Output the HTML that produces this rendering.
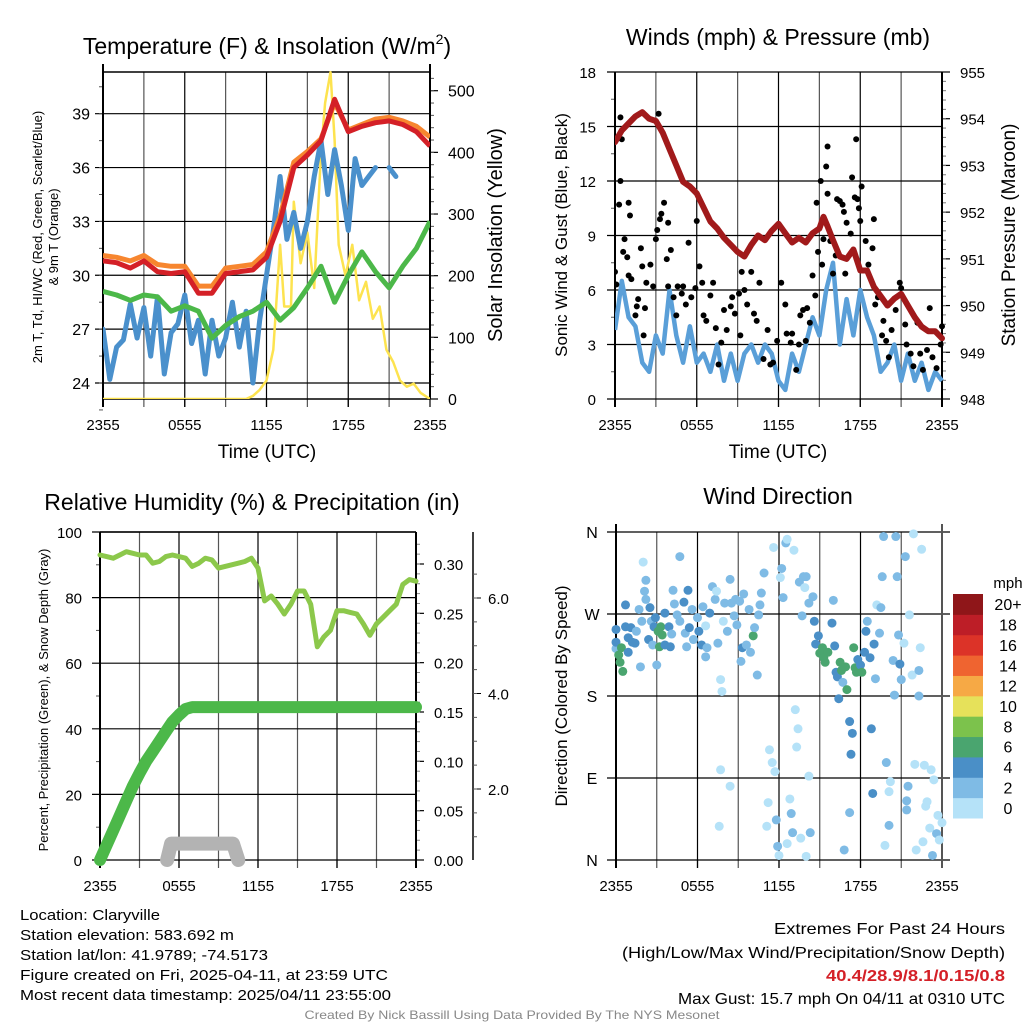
<!DOCTYPE html>
<html><head><meta charset="utf-8"><style>
html,body{margin:0;padding:0;background:#fff;}
svg{display:block;font-family:"Liberation Sans",Arial,sans-serif;}
</style></head><body>
<svg id="chart" width="1024" height="1024" viewBox="0 0 1024 1024" xmlns="http://www.w3.org/2000/svg"></svg>
<script>
// ===== Panel 1 data: temperature & insolation =====
const tempHours = [0,1,2,3,4,5,6,7,8,9,10,11,12,13,14,15,16,17,18,19,20,21,22,23,24];
const temp2m = [30.8,30.7,30.4,30.8,30.2,30.1,30.2,29.0,29.0,30.1,30.2,30.3,31.0,33.0,36.0,36.7,37.5,39.8,38.0,38.3,38.5,38.6,38.4,38.0,37.2];
const temp9m = [31.1,31.0,30.8,31.1,30.6,30.5,30.5,29.4,29.4,30.4,30.5,30.6,31.3,33.3,36.3,36.9,37.6,39.6,38.1,38.4,38.7,38.8,38.6,38.3,37.7];
const dewpoint = [29.1,28.9,28.6,28.9,28.8,28.0,28.3,28.0,26.5,27.2,27.7,28.0,28.5,27.5,28.2,29.3,30.5,28.5,30.0,31.3,30.2,29.3,30.5,31.5,33.0];
const halfHours = [0,0.5,1,1.5,2,2.5,3,3.5,4,4.5,5,5.5,6,6.5,7,7.5,8,8.5,9,9.5,10,10.5,11,11.5,12,12.5,13,13.5,14,14.5,15,15.5,16,16.5,17,17.5,18,18.5,19,19.5,20,20.5,21,21.5,22,22.5,23,23.5,24];
const windChill = [27.0,24.2,26.0,26.4,28.4,26.5,28.2,25.5,28.8,24.5,26.8,27.3,28.9,26.2,27.5,24.5,27.5,25.5,26.5,28.5,26.0,28.0,24.0,27.5,30.0,32.5,35.5,32.0,33.5,31.5,33.0,35.5,37.5,34.5,37.0,35.0,32.5,36.5,35.0,35.5,36.0,null,36.0,35.5,null,null,null,null,null];
const solarHours = [0,10.5,11,11.5,12,12.5,13,13.3,13.8,14,14.5,15,15.5,16,16.3,16.7,17,17.3,17.8,18.3,18.8,19.3,19.8,20.3,20.8,21.3,21.8,22.3,22.8,23.3,24];
const solar = [0,0,5,15,30,80,250,150,150,320,220,270,180,400,480,530,420,250,200,250,160,190,130,150,80,60,30,20,25,10,0];
const tempTicks = [24,27,30,33,36,39];
const solarTicks = [0,100,200,300,400,500];
const timeLabels = ["2355","0555","1155","1755","2355"];

// ===== Panel 2 data: winds & pressure =====
const pressHours = [0,0.5,1,1.5,2,2.5,3,3.5,4,4.5,5,5.5,6,6.5,7,7.5,8,8.5,9,9.5,10,10.5,11,11.5,12,12.5,13,13.5,14,14.5,15,15.3,15.6,16,16.5,17,17.5,18,18.5,19,19.5,20,20.5,21,21.5,22,22.5,23,23.5,24];
const pressure = [953.5,953.75,953.9,954.05,954.14,954.0,953.95,953.7,953.35,953.0,952.65,952.55,952.4,952.1,951.8,951.65,951.45,951.3,951.15,951.05,951.3,951.5,951.4,951.6,951.75,951.55,951.35,951.45,951.35,951.55,951.65,951.9,951.7,951.4,951.05,951.0,951.2,950.75,950.75,950.4,950.2,950.0,950.15,950.25,950.0,949.75,949.55,949.45,949.45,949.3];
const sonicWind = [3.8,6.5,4.5,4.0,2.0,1.5,3.5,2.5,6.0,3.5,2.0,4.0,2.0,2.5,1.5,3.0,1.0,2.5,1.0,2.5,3.0,2.0,3.0,2.5,1.0,0.5,2.5,1.5,3.0,4.5,3.5,6.0,7.5,3.0,5.5,3.5,6.0,4.5,3.5,1.5,2.0,3.0,1.0,2.5,1.0,2.0,0.5,1.5,1.0];
const gustHours = [0,0.1,0.3,0.4,0.4,0.5,0.7,0.6,0.9,1.0,1.1,1.0,1.2,1.5,1.6,1.7,1.9,2.0,2.1,2.2,2.3,2.6,2.8,3.0,3.1,3.2,3.3,3.4,3.6,3.8,3.9,3.9,4.1,4.3,4.5,4.6,4.9,5.0,5.2,5.4,5.6,5.9,6.0,6.2,6.4,6.5,6.7,7.0,7.2,7.4,7.6,7.8,8.0,8.2,8.5,8.6,8.8,9.1,9.2,9.3,9.5,9.7,10.0,10.2,10.4,10.6,10.9,11.2,11.4,11.6,11.9,12.2,12.5,12.6,12.9,13.0,13.3,13.5,13.6,13.8,14.0,14.1,14.3,14.5,14.7,14.8,14.9,15.1,15.2,15.3,15.5,15.6,15.6,15.8,16.0,16.2,16.3,16.5,16.7,16.8,16.9,17.0,17.3,17.4,17.6,17.7,17.8,17.9,18.0,18.1,18.4,18.6,18.9,19.0,19.1,19.3,19.6,19.7,19.9,20.1,20.3,20.6,20.9,21.0,21.3,21.4,21.7,21.9,22.2,22.4,22.6,22.9,23.1,23.3,23.6,23.9,24.0];
const gusts = [7.0,6.3,10.7,12.0,15.5,14.3,8.8,8.1,7.8,10.8,10.1,6.8,6.6,4.6,5.1,5.5,8.3,7.3,3.5,5.0,6.4,7.4,6.2,8.8,9.3,15.7,9.9,10.2,10.8,7.7,6.2,9.7,8.2,5.6,4.6,6.2,5.8,6.2,5.2,8.6,5.6,6.1,9.8,7.3,6.4,4.6,4.3,5.7,6.4,3.9,1.9,3.1,4.9,3.8,5.1,5.6,4.7,5.8,3.5,7.0,6.0,5.2,7.0,4.7,4.3,6.4,2.2,3.8,1.9,2.0,3.2,6.4,5.2,3.6,3.1,3.6,1.6,3.0,4.6,4.9,3.2,5.0,4.2,6.8,5.7,10.8,8.1,12.0,7.4,8.8,12.8,13.9,11.3,8.7,6.9,7.9,11.0,10.9,10.7,10.3,6.9,9.7,9.1,12.2,11.1,14.3,11.0,10.5,9.8,11.7,8.7,7.4,8.3,9.9,5.2,5.6,3.5,4.3,3.2,2.3,3.8,4.9,6.4,6.1,4.1,3.0,2.5,1.8,4.2,2.5,1.6,2.7,5.0,2.3,1.7,3.0,4.0];
const windTicks = [0,3,6,9,12,15,18];
const pressTicks = [948,949,950,951,952,953,954,955];

// ===== Panel 3 data: RH & precipitation =====
const relHumidity = [93,92.5,92,93,94,93.5,93,93,90.5,91,92.5,93,92.5,92,89.5,90.5,92,91.5,89,89.5,90,90.5,91,92,89,79,80.5,78,75,78,82,82,78,65,68,70,76,76,75.5,75,72,68.5,72,74,76,78,84,85.5,85];
const precip = [0,0.015,0.03,0.045,0.06,0.075,0.088,0.1,0.11,0.12,0.13,0.14,0.147,0.153,0.155,0.155,0.155,0.155,0.155,0.155,0.155,0.155,0.155,0.155,0.155,0.155,0.155,0.155,0.155,0.155,0.155,0.155,0.155,0.155,0.155,0.155,0.155,0.155,0.155,0.155,0.155,0.155,0.155,0.155,0.155,0.155,0.155,0.155,0.155];
const snowHours = [5.1,5.4,6,7,8,9,10.1,10.5];
const snowDepthPct = [0,5,5,5,5,5,5,0];
const rhTicks = [0,20,40,60,80,100];
const precipTicks = ["0.00","0.05","0.10","0.15","0.20","0.25","0.30"];
const snowTicks = ["2.0","4.0","6.0"];

// ===== Panel 4 data: wind direction =====
const dirHours = [0.0,0.0,0.0,0.2,0.3,0.4,0.5,0.7,0.7,0.9,0.9,1.1,1.2,1.4,1.5,1.7,1.8,1.9,2.0,2.1,2.2,2.2,2.4,2.5,2.6,2.7,2.8,2.9,3.0,3.1,3.2,3.3,3.4,3.6,3.6,3.9,4.0,4.1,4.2,4.3,4.5,4.7,4.7,5.0,5.1,5.2,5.3,5.4,5.6,5.7,6.0,6.1,6.3,6.4,6.6,6.6,6.7,6.9,7.1,7.3,7.4,7.5,7.7,7.8,7.9,8.0,8.2,8.4,8.5,8.7,8.8,8.9,9.1,9.2,9.3,9.4,9.6,9.8,9.9,10.1,10.2,10.4,10.5,10.6,10.7,10.9,7.7,8.4,7.6,11.1,11.2,11.3,11.5,11.7,11.6,11.8,11.9,12.0,12.1,12.2,12.3,12.5,12.6,12.6,12.8,12.9,13.0,13.1,13.2,13.3,13.4,13.5,13.6,13.7,13.8,13.9,14.0,14.0,14.2,14.3,14.2,14.5,14.6,14.7,14.9,15.0,15.2,15.3,15.4,15.6,15.9,16.0,16.1,16.2,16.3,16.4,16.5,16.6,16.7,16.8,16.9,17.0,17.2,17.2,17.3,17.4,17.5,17.6,17.7,17.8,18.0,18.1,18.3,18.4,18.5,18.7,18.8,18.9,19.0,19.1,19.2,19.4,19.5,19.6,19.7,19.8,19.9,20.1,20.1,20.2,20.4,20.5,20.6,20.7,20.8,20.9,21.0,21.2,21.3,21.4,21.4,21.5,21.6,21.8,21.9,22.0,22.1,22.3,22.3,22.4,22.5,22.6,22.7,22.8,22.9,23.1,23.2,23.3,23.4,23.6,23.7,23.8,24.0];
const dirDegrees = [232,253,239,225,217,233,207,280,256,244,228,255,239,238,251,275,212,262,327,295,307,286,242,277,262,236,256,266,214,251,234,256,247,236,271,256,234,248,296,281,269,333,262,283,249,234,296,255,275,242,266,251,236,278,257,223,233,271,300,286,295,238,198,185,262,282,251,308,282,268,286,258,284,218,233,292,236,275,228,246,255,203,269,280,293,315,99,81,37,37,63,121,107,97,343,44,15,5,310,320,288,348,352,18,67,51,30,340,165,124,144,305,24,268,311,299,4,311,92,30,282,289,262,237,246,227,233,222,217,228,260,285,235,206,201,177,217,208,195,11,212,187,152,52,116,139,233,211,206,220,214,206,228,251,262,222,144,73,237,199,280,249,277,311,355,16,107,38,75,86,219,181,355,311,247,215,198,238,333,55,65,81,269,203,358,105,11,180,208,233,341,20,104,59,64,35,99,5,88,29,49,22,41];
const dirSpeed = [3,5,5,7,7,7,7,5,5,5,5,5,5,5,3,3,3,3,1,3,3,3,5,5,3,3,5,5,3,7,7,7,7,5,5,5,5,3,3,3,3,3,3,5,3,3,5,5,3,3,3,5,5,3,1,3,3,5,3,3,1,3,1,1,1,3,3,3,3,3,3,3,3,3,5,3,3,3,3,7,3,3,3,3,3,3,1,1,1,1,1,1,1,1,1,3,3,1,1,3,3,3,1,1,1,3,3,1,1,1,1,3,1,3,3,1,1,3,1,3,3,3,5,5,5,7,7,7,7,7,5,3,5,5,5,5,7,7,3,3,7,7,5,3,5,5,7,7,7,5,5,7,5,5,3,5,5,5,5,3,1,3,3,3,3,1,3,3,1,1,3,3,3,3,3,5,3,1,3,3,3,3,1,1,1,1,1,3,3,1,1,1,1,1,1,1,1,3,1,3,1,1,1,1,1];
const dirLabels = ["N","E","S","W","N"];
const cbarLabels = ["0","2","4","6","8","10","12","14","16","18","20+"];
const cbarColors = ["#b5e2f8","#7fbbe5","#4a8fc7","#4aa56f","#7cc24c","#e6e15a","#f6a945","#ef6430","#dc3328","#bd1e27","#8f1619"];

// ===== rendering =====
const svg = document.getElementById('chart');
const NS = 'http://www.w3.org/2000/svg';
function mk(tag, attrs, parent) {
  const e = document.createElementNS(NS, tag);
  for (const k in attrs) e.setAttribute(k, attrs[k]);
  (parent || svg).appendChild(e);
  return e;
}
function txt(str, x, y, size, anchor, parent, extra) {
  const t = mk('text', Object.assign({x: x, y: y, 'font-size': size, 'text-anchor': anchor || 'middle', fill: '#000'}, extra || {}), parent);
  t.textContent = str;
  return t;
}
function linScale(d0, d1, r0, r1) { return v => r0 + (v - d0) / (d1 - d0) * (r1 - r0); }
function pathFrom(xs, ys, fx, fy) {
  let d = '', pen = false;
  for (let i = 0; i < xs.length; i++) {
    if (ys[i] === null || ys[i] === undefined) { pen = false; continue; }
    d += (pen ? 'L' : 'M') + fx(xs[i]).toFixed(1) + ',' + fy(ys[i]).toFixed(1);
    pen = true;
  }
  return d;
}
function frame(g, x0, x1, y0, y1) {
  const fx = linScale(0, 24, x0, x1);
  for (let h = 3; h < 24; h += 3) {
    const l = mk('line', {x1: fx(h), x2: fx(h), y1: y0, y2: y1 + 8, stroke: (h % 6 === 0) ? '#000' : '#555', 'stroke-width': 1.2}, g);
    
    
  }
  for (let h = 0; h <= 24; h += 6) {
    mk('line', {x1: fx(h), x2: fx(h), y1: y1, y2: y1 + 8, stroke: '#000', 'stroke-width': 1.2}, g);
  }
  return fx;
}

// ---------- Panel 1 ----------
(function () {
  const g = mk('g', {});
  
  
  const x0 = 103, x1 = 430, y0 = 72, y1 = 399;
  const fx = frame(g, x0, x1, y0, y1);
  const fy = linScale(39, 24, 113.7, 383);
  const fs = linScale(0, 500, 399, 90.7);
  tempTicks.forEach(v => {
    mk('line', {x1: x0 - 8, x2: x1, y1: fy(v), y2: fy(v), stroke: '#000', 'stroke-width': 1.2}, g);
    txt(String(v), 90, fy(v) + 6, 16, 'end', g);
  });
  for (let v = 22.5; v <= 41; v += 1.5) mk('line', {x1: x0 - 4, x2: x0, y1: fy(v), y2: fy(v), stroke: '#555'}, g);
  solarTicks.forEach(v => {
    mk('line', {x1: x1, x2: x1 + 8, y1: fs(v), y2: fs(v), stroke: '#000', 'stroke-width': 1.2}, g);
    txt(String(v), 448, fs(v) + 6, 16, 'start', g);
  });
  for (let v = 20; v <= 520; v += 20) mk('line', {x1: x1, x2: x1 + 4, y1: fs(v), y2: fs(v), stroke: '#555'}, g);
  mk('line', {x1: x0, x2: x1, y1: y0, y2: y0, stroke: '#000', 'stroke-width': 1.5}, g);
  mk('line', {x1: x0, x2: x1, y1: y1, y2: y1, stroke: '#000', 'stroke-width': 1.5}, g);
  mk('line', {x1: x0, x2: x0, y1: y0 - 8, y2: y1 + 8, stroke: '#000', 'stroke-width': 2}, g);
  mk('line', {x1: x1, x2: x1, y1: y0 - 8, y2: y1, stroke: '#000', 'stroke-width': 2}, g);
  const clip = mk('clipPath', {id: 'c1'}, g); mk('rect', {x: x0, y: y0 - 2, width: x1 - x0, height: y1 - y0 + 2}, clip);
  const s = mk('g', {'clip-path': 'url(#c1)'}, g);
  let p;
  p = mk('path', {d: pathFrom(solarHours, solar, fx, fs), fill: 'none', stroke: '#fde34f', 'stroke-width': 2.5, 'stroke-linejoin': 'round'}, s);
   
  p = mk('path', {d: pathFrom(halfHours, windChill, fx, fy), fill: 'none', stroke: '#4a90cc', 'stroke-width': 5, 'stroke-linejoin': 'round', 'stroke-linecap': 'round'}, s);
   
  p = mk('path', {d: pathFrom(tempHours, dewpoint, fx, fy), fill: 'none', stroke: '#4cb849', 'stroke-width': 5, 'stroke-linejoin': 'round'}, s);
   
  p = mk('path', {d: pathFrom(tempHours, temp9m, fx, fy), fill: 'none', stroke: '#f7862f', 'stroke-width': 5, 'stroke-linejoin': 'round'}, s);
   
  p = mk('path', {d: pathFrom(tempHours, temp2m, fx, fy), fill: 'none', stroke: '#d42027', 'stroke-width': 5, 'stroke-linejoin': 'round'}, s);
   
  timeLabels.forEach((l, i) => txt(l, fx(i * 6), 430, 15, 'middle', g));
  txt('Time (UTC)', 267, 458, 19, 'middle', g);
  const tt = mk('text', {x: 267, y: 54, 'font-size': 23, 'text-anchor': 'middle', fill: '#000'}, g);
   
  const t1 = mk('tspan', {}, tt); t1.textContent = 'Temperature (F) & Insolation (W/m';
  const t2 = mk('tspan', {'font-size': 14, dy: -10}, tt); t2.textContent = '2';
  const t3 = mk('tspan', {dy: 10}, tt); t3.textContent = ')';
  const ylt = mk('text', {transform: 'translate(42,237) rotate(-90)', 'font-size': 13, 'text-anchor': 'middle'}, g);
  ylt.textContent = '2m T, Td, HI/WC (Red, Green, Scarlet/Blue)';
   
  const ylt2 = mk('text', {transform: 'translate(58,237) rotate(-90)', 'font-size': 13, 'text-anchor': 'middle'}, g);
  ylt2.textContent = '& 9m T (Orange)';
  const yr = mk('text', {transform: 'translate(502,235) rotate(-90)', 'font-size': 20, 'text-anchor': 'middle'}, g);
  yr.textContent = 'Solar Insolation (Yellow)';
   
})();

// ---------- Panel 2 ----------
(function () {
  const g = mk('g', {});
  
  
  const x0 = 615, x1 = 942, y0 = 72, y1 = 399;
  const fx = frame(g, x0, x1, y0, y1);
  const fy = linScale(0, 18, y1, y0);
  const fp = linScale(948, 955, y1, y0);
  windTicks.forEach(v => {
    mk('line', {x1: x0 - 8, x2: x1, y1: fy(v), y2: fy(v), stroke: '#000', 'stroke-width': 1.2}, g);
    txt(String(v), 596, fy(v) + 6, 15, 'end', g);
  });
  for (let v = 1.5; v < 18; v += 3) mk('line', {x1: x0 - 4, x2: x0, y1: fy(v), y2: fy(v), stroke: '#555'}, g);
  pressTicks.forEach(v => {
    mk('line', {x1: x1, x2: x1 + 8, y1: fp(v), y2: fp(v), stroke: '#000', 'stroke-width': 1.2}, g);
    txt(String(v), 960, fp(v) + 6, 15, 'start', g);
  });
  for (let v = 948.2; v < 955; v += 0.2) mk('line', {x1: x1, x2: x1 + 4, y1: fp(v), y2: fp(v), stroke: '#777'}, g);
  mk('line', {x1: x0, x2: x0, y1: y0, y2: y1 + 8, stroke: '#000', 'stroke-width': 2}, g);
  mk('line', {x1: x1, x2: x1, y1: y0, y2: y1 + 8, stroke: '#000', 'stroke-width': 2}, g);
  const clip = mk('clipPath', {id: 'c2'}, g); mk('rect', {x: x0, y: y0 - 3, width: x1 - x0 + 3, height: y1 - y0 + 3}, clip);
  const s = mk('g', {'clip-path': 'url(#c2)'}, g);
  let p = mk('path', {d: pathFrom(halfHours, sonicWind, fx, fy), fill: 'none', stroke: '#5a9fd8', 'stroke-width': 4.5, 'stroke-linejoin': 'round'}, s);
   
  gustHours.forEach((h, i) => {
    const c = mk('circle', {cx: fx(h), cy: fy(gusts[i]), r: 3, fill: '#000'}, s);
    
    
  });
  p = mk('path', {d: pathFrom(pressHours, pressure, fx, fp), fill: 'none', stroke: '#a11a1b', 'stroke-width': 6, 'stroke-linejoin': 'round', 'stroke-linecap': 'round'}, s);
   
  timeLabels.forEach((l, i) => txt(l, fx(i * 6), 430, 15, 'middle', g));
  txt('Time (UTC)', 778, 458, 19, 'middle', g);
  const tt = txt('Winds (mph) & Pressure (mb)', 778, 45, 23, 'middle', g);
   
  const yl = mk('text', {transform: 'translate(567,235) rotate(-90)', 'font-size': 17, 'text-anchor': 'middle'}, g);
  yl.textContent = 'Sonic Wind & Gust (Blue, Black)';
  const yr = mk('text', {transform: 'translate(1015,235) rotate(-90)', 'font-size': 19, 'text-anchor': 'middle'}, g);
  yr.textContent = 'Station Pressure (Maroon)';
})();

// ---------- Panel 3 ----------
(function () {
  const g = mk('g', {});
  
  
  const x0 = 100, x1 = 416, y0 = 532, y1 = 860;
  const fx = frame(g, x0, x1, y0, y1);
  const fy = linScale(0, 100, y1, y0);
  const fpr = linScale(0, 0.30, 860, 564);
  rhTicks.forEach(v => {
    mk('line', {x1: x0 - 8, x2: x1, y1: fy(v), y2: fy(v), stroke: '#000', 'stroke-width': 1.2}, g);
    txt(String(v), 82, fy(v) + 6, 15, 'end', g);
  });
  for (let v = 10; v < 100; v += 20) mk('line', {x1: x0 - 4, x2: x0, y1: fy(v), y2: fy(v), stroke: '#555'}, g);
  precipTicks.forEach(l => {
    const v = parseFloat(l);
    mk('line', {x1: x1, x2: x1 + 8, y1: fpr(v), y2: fpr(v), stroke: '#000', 'stroke-width': 1.2}, g);
    txt(l, 434, fpr(v) + 6, 15, 'start', g);
  });
  for (let v = 0.01; v < 0.33; v += 0.01) mk('line', {x1: x1, x2: x1 + 4, y1: fpr(v), y2: fpr(v), stroke: '#888'}, g);
  const fsn = linScale(2, 6, 789, 598);
  mk('line', {x1: 473, x2: 473, y1: 532, y2: 860, stroke: '#000', 'stroke-width': 1.5}, g);
  snowTicks.forEach(l => {
    const v = parseFloat(l);
    mk('line', {x1: 473, x2: 481, y1: fsn(v), y2: fsn(v), stroke: '#000'}, g);
    txt(l, 488, fsn(v) + 6, 15, 'start', g);
  });
  for (let v = 0.5; v < 7; v += 0.5) { const yy = fsn(v); if (yy > 532 && yy < 860) mk('line', {x1: 473, x2: 477, y1: yy, y2: yy, stroke: '#555'}, g); }
  mk('line', {x1: x0, x2: x1, y1: y0, y2: y0, stroke: '#000', 'stroke-width': 1.5}, g);
  mk('line', {x1: x0, x2: x0, y1: y0, y2: y1 + 8, stroke: '#000', 'stroke-width': 2}, g);
  mk('line', {x1: x1, x2: x1, y1: y0, y2: y1 + 8, stroke: '#000', 'stroke-width': 2}, g);
  let p = mk('path', {d: pathFrom(snowHours, snowDepthPct, fx, fy), fill: 'none', stroke: '#b3b3b3', 'stroke-width': 14, 'stroke-linejoin': 'round', 'stroke-linecap': 'round'}, g);
   
  p = mk('path', {d: pathFrom(halfHours, relHumidity, fx, fy), fill: 'none', stroke: '#8cc84b', 'stroke-width': 5, 'stroke-linejoin': 'round', 'stroke-linecap': 'round'}, g);
   
  p = mk('path', {d: pathFrom(halfHours, precip, fx, fpr), fill: 'none', stroke: '#4cb849', 'stroke-width': 12, 'stroke-linejoin': 'round', 'stroke-linecap': 'round'}, g);
   
  timeLabels.forEach((l, i) => txt(l, fx(i * 6), 891, 15, 'middle', g));
  const tt = txt('Relative Humidity (%) & Precipitation (in)', 252, 510, 23, 'middle', g);
   
  const yl = mk('text', {transform: 'translate(48,700) rotate(-90)', 'font-size': 13, 'text-anchor': 'middle'}, g);
  yl.textContent = 'Percent, Precipitation (Green), & Snow Depth (Gray)';
})();

// ---------- Panel 4 ----------
(function () {
  const g = mk('g', {});
  
  
  const x0 = 616, x1 = 942, y0 = 532, y1 = 860;
  const fx = frame(g, x0, x1, y0, y1);
  const fy = linScale(0, 360, y1, y0);
  dirLabels.forEach((l, i) => {
    const v = i * 90;
    mk('line', {x1: 607, x2: 950, y1: fy(v), y2: fy(v), stroke: '#000', 'stroke-width': 1.2}, g);
    txt(l, 592, fy(v) + 6, 16, 'middle', g);
  });
  mk('line', {x1: x0, x2: x0, y1: y0 - 8, y2: y1 + 8, stroke: '#000', 'stroke-width': 2}, g);
  mk('line', {x1: x1, x2: x1, y1: y0 - 8, y2: y1 + 8, stroke: '#555', 'stroke-width': 2}, g);
  dirHours.forEach((h, i) => {
    const bin = Math.min(10, Math.floor(dirSpeed[i] / 2));
    const c = mk('circle', {cx: fx(h), cy: fy(dirDegrees[i]), r: 4.5, fill: cbarColors[bin]}, g);
    
    
  });
  timeLabels.forEach((l, i) => txt(l, fx(i * 6), 891, 15, 'middle', g));
  const tt = txt('Wind Direction', 778, 504, 23, 'middle', g);
   
  const yl = mk('text', {transform: 'translate(567,696) rotate(-90)', 'font-size': 17, 'text-anchor': 'middle'}, g);
  yl.textContent = 'Direction (Colored By Speed)';
  const cb = mk('g', {}, g);
  
  
  const bh = (818 - 594) / cbarLabels.length;
  cbarLabels.forEach((l, i) => {
    const yy = 818 - (i + 1) * bh;
    const r = mk('rect', {x: 953, y: yy, width: 30, height: bh + 0.5, fill: cbarColors[i]}, cb);
    
    
    txt(l, 1008, yy + bh / 2 + 6, 16, 'middle', cb);
  });
  txt('mph', 1008, 588, 15, 'middle', cb);
})();

// ---------- Footer text ----------
(function () {
  const g = mk('g', {});
  
  
  const left = [['Location: Claryville', 140], ['Station elevation: 583.692 m', 214], ['Station lat/lon: 41.9789; -74.5173', 248], ['Figure created on Fri, 2025-04-11, at 23:59 UTC', 368], ['Most recent data timestamp: 2025/04/11 23:55:00', 371]];
  left.forEach((r, i) => txt(r[0], 20, 920 + i * 20, 15, 'start', g, {textLength: r[1], lengthAdjust: 'spacingAndGlyphs'}));
  const g2 = mk('g', {});
  
  
  txt('Extremes For Past 24 Hours', 1005, 934, 16, 'end', g2, {textLength: 231, lengthAdjust: 'spacingAndGlyphs'});
  txt('(High/Low/Max Wind/Precipitation/Snow Depth)', 1005, 958, 16, 'end', g2, {textLength: 383, lengthAdjust: 'spacingAndGlyphs'});
  txt('40.4/28.9/8.1/0.15/0.8', 1005, 981, 16, 'end', g2, {textLength: 179, lengthAdjust: 'spacingAndGlyphs', fill: '#d42027', 'font-weight': 'bold'});
  txt('Max Gust: 15.7 mph On 04/11 at 0310 UTC', 1005, 1004, 16, 'end', g2, {textLength: 327, lengthAdjust: 'spacingAndGlyphs'});
  const cr = txt('Created By Nick Bassill Using Data Provided By The NYS Mesonet', 512, 1019, 12, 'middle', svg, {textLength: 415, lengthAdjust: 'spacingAndGlyphs', fill: '#888'});
   
})();
</script>
</body></html>
